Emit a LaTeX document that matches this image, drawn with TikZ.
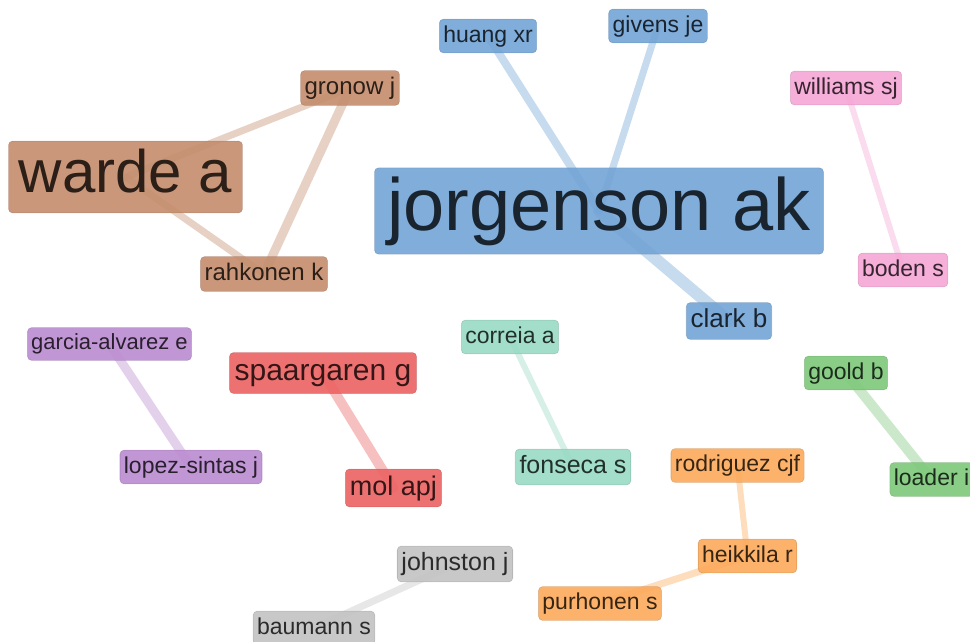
\documentclass[tikz,border=0pt]{standalone}
\usepackage{fontspec}
\setmainfont{Liberation Sans}
\usetikzlibrary{backgrounds, positioning}
\definecolor{netblue}{HTML}{72A4D6}
\definecolor{netbrown}{HTML}{C48C6C}
\definecolor{netpink}{HTML}{F5A6D5}
\definecolor{netpurple}{HTML}{BA8BD0}
\definecolor{netred}{HTML}{EC6262}
\definecolor{netteal}{HTML}{98DAC4}
\definecolor{netgreen}{HTML}{7DC87A}
\definecolor{netorange}{HTML}{FCAA5A}
\definecolor{netgray}{HTML}{C2C2C2}

\begin{document}
\begin{tikzpicture}[
  x=1pt, y=-1pt,
  author/.style 2 args={rectangle, rounded corners=4pt,
    fill=#1, fill opacity=0.9, text opacity=1,
    draw=#1!75!black, draw opacity=0.45, line width=0.6pt,
    text=#1!22!black, font=\fontsize{#2}{#2}\selectfont,
    text height=#2*0.78pt, text depth=#2*0.25pt,
    inner xsep=#2*0.17pt, inner ysep=5pt},
  link/.style 2 args={draw=#1, line width=#2, opacity=0.4, line cap=round}
]
\useasboundingbox (0,0) rectangle (970,642);

% ---- Blue cluster ----
\node[author={netblue}{74}] (jorgenson) at (599,211) {jorgenson ak};
\node[author={netblue}{23}] (huang) at (488,36) {huang xr};
\node[author={netblue}{23}] (givens) at (658,26) {givens je};
\node[author={netblue}{26}] (clark) at (729,321) {clark b};

% ---- Brown cluster ----
\node[author={netbrown}{60}] (warde) at (125.5,177) {warde a};
\node[author={netbrown}{24}] (gronow) at (350,88) {gronow j};
\node[author={netbrown}{24}] (rahkonen) at (264,274) {rahkonen k};

% ---- Pairs and small groups ----
\node[author={netpink}{23}] (williams) at (846,88) {williams sj};
\node[author={netpink}{23}] (boden) at (903,270) {boden s};

\node[author={netpurple}{22}] (garcia) at (109.5,344) {garcia-alvarez e};
\node[author={netpurple}{23}] (lopez) at (191,467) {lopez-sintas j};

\node[author={netred}{30}] (spaargaren) at (323,373) {spaargaren g};
\node[author={netred}{27}] (mol) at (393.5,488) {mol apj};

\node[author={netteal}{23}] (correia) at (510,337) {correia a};
\node[author={netteal}{25}] (fonseca) at (573,467) {fonseca s};

\node[author={netgreen}{23}] (goold) at (846,373) {goold b};
\node[author={netgreen}{23}] (loader) at (931.5,479.5) {loader i};

\node[author={netorange}{23}] (rodriguez) at (737.5,465.5) {rodriguez cjf};
\node[author={netorange}{23}] (heikkila) at (747.5,556) {heikkila r};
\node[author={netorange}{23}] (purhonen) at (600,603.5) {purhonen s};

\node[author={netgray}{25}] (johnston) at (455,564) {johnston j};
\node[author={netgray}{23}] (baumann) at (314,628) {baumann s};

% ---- Links (centre to centre, behind the boxes) ----
\begin{scope}[on background layer]
  \draw[link={netbrown}{7pt}] (warde.center) -- (gronow.center);
  \draw[link={netbrown}{7pt}] (warde.center) -- (rahkonen.center);
  \draw[link={netbrown}{9pt}] (gronow.center) -- (rahkonen.center);
  \draw[link={netblue}{8pt}] (huang.center) -- (jorgenson.center);
  \draw[link={netblue}{7pt}] (givens.center) -- (jorgenson.center);
  \draw[link={netblue}{12pt}] (jorgenson.center) -- (clark.center);
  \draw[link={netpink}{6pt}] (williams.center) -- (boden.center);
  \draw[link={netpurple}{9pt}] (garcia.center) -- (lopez.center);
  \draw[link={netred}{10pt}] (spaargaren.center) -- (mol.center);
  \draw[link={netteal}{6pt}] (correia.center) -- (fonseca.center);
  \draw[link={netgreen}{10pt}] (goold.center) -- (loader.center);
  \draw[link={netorange}{6pt}] (rodriguez.center) -- (heikkila.center);
  \draw[link={netorange}{7pt}] (heikkila.center) -- (purhonen.center);
  \draw[link={netgray}{7pt}] (johnston.center) -- (baumann.center);
\end{scope}

\end{tikzpicture}
\end{document}
